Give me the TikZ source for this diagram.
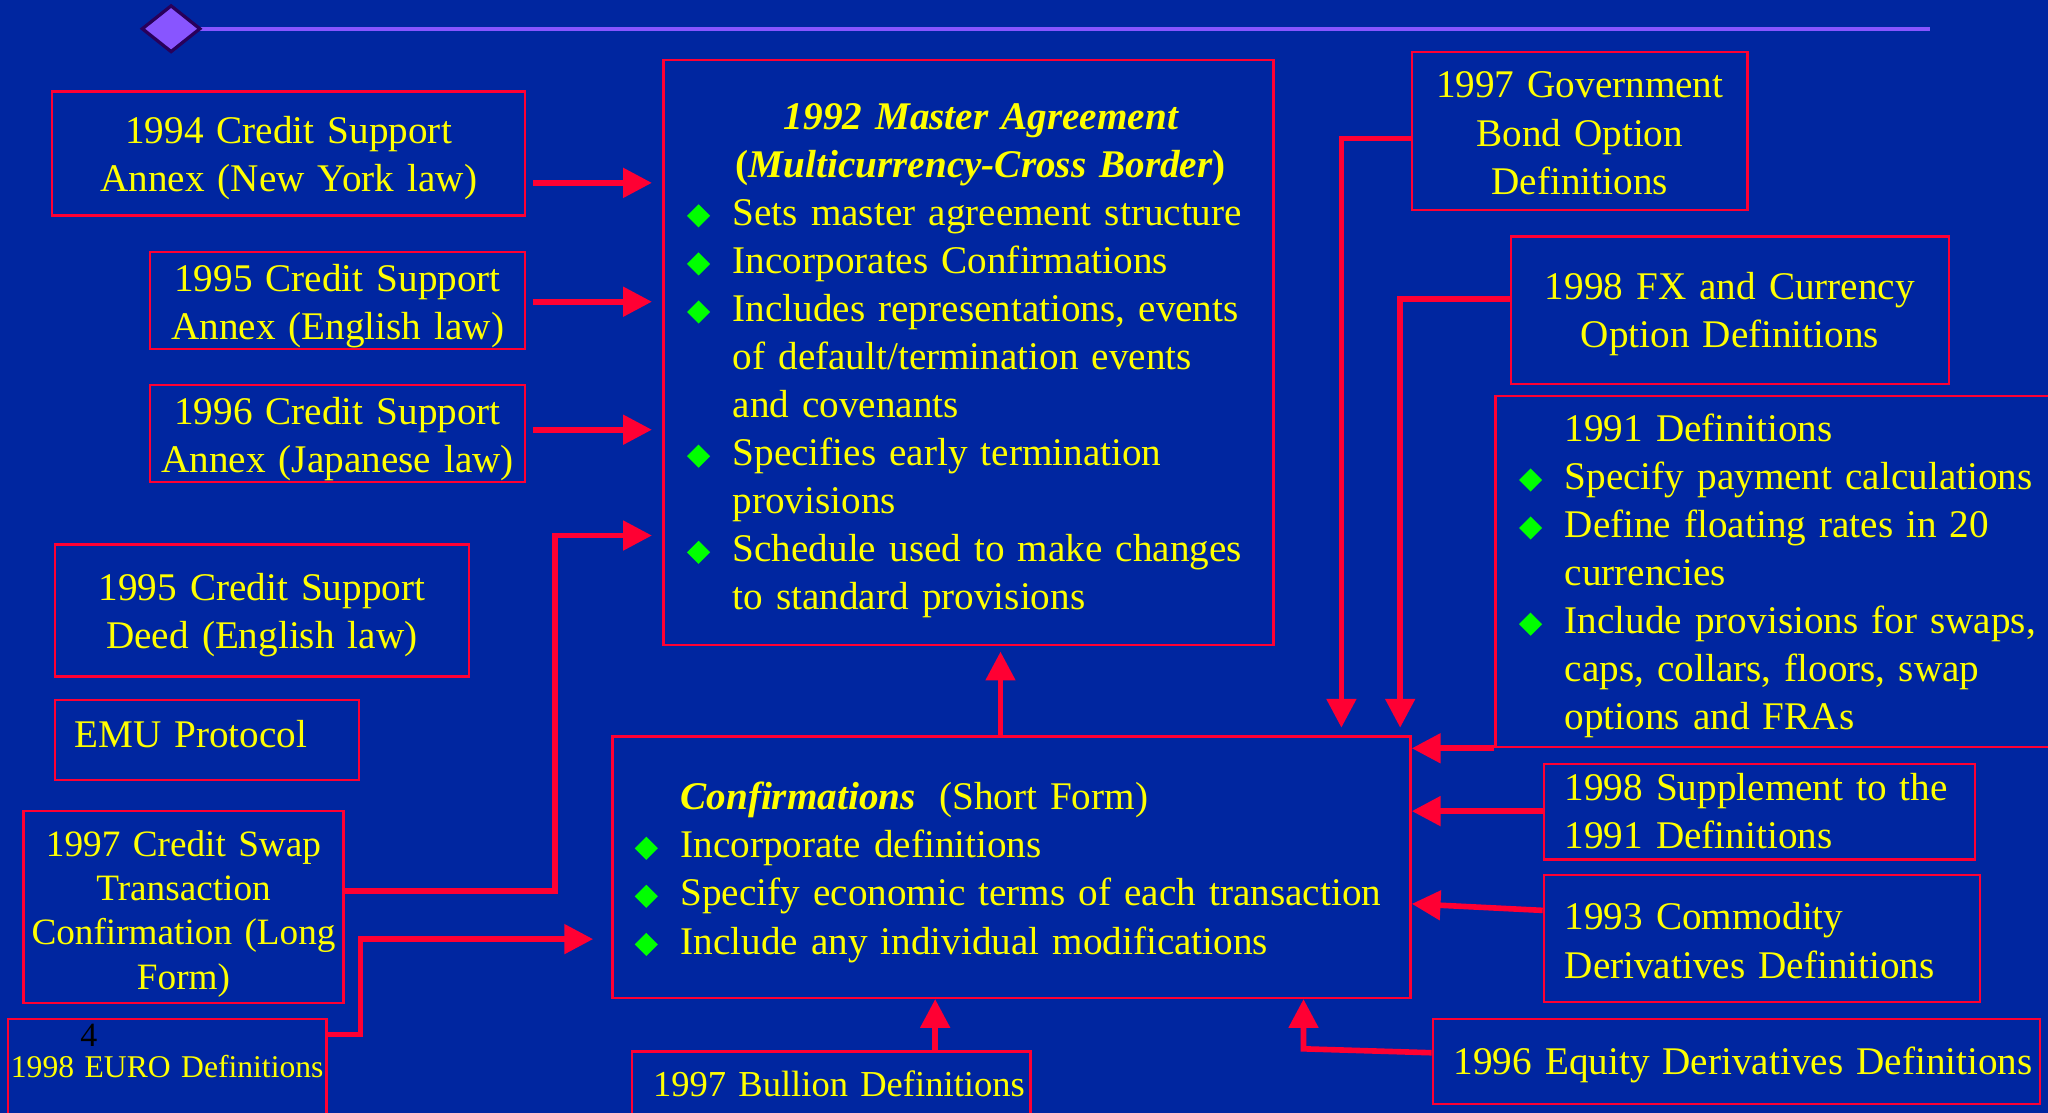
\documentclass[tikz,border=0pt]{standalone}
\usepackage{fontspec}
\setmainfont{Liberation Serif}
\usepackage{graphicx}
\usetikzlibrary{arrows.meta,calc}
\definecolor{bg}{RGB}{0,38,160}
\definecolor{bred}{RGB}{255,0,51}
\definecolor{byel}{RGB}{255,255,0}
\definecolor{bgreen}{RGB}{0,255,0}
\definecolor{bpurp}{RGB}{136,85,255}
\definecolor{bdark}{RGB}{40,0,90}
\newcommand\gbul{\makebox[34pt][l]{\hspace*{-1pt}\raisebox{-1.5pt}{\rotatebox{45}{\textcolor{bgreen}{\rule{12.5pt}{12.5pt}}}}}}
\newcommand\gind{\hspace*{34pt}}
\begin{document}
\begin{tikzpicture}[x=1pt,y=-1pt,
  box/.style={draw=bred, line width=1.8pt, text=byel, inner sep=0pt, font=\fontsize{30}{36.8}\selectfont},
  cbox/.style={box, align=center},
  lbox/.style={box, align=left},
  tb/.style 2 args={text height=#1pt, text depth=#2pt},
  arr/.style={draw=bred, line width=4.3pt, -{Triangle[length=22pt,width=22pt]}}]
\useasboundingbox (0,0) rectangle (1568,852);
\fill[bg] (0,0) rectangle (1568,852);
\begin{scope}
\clip (0,0) rectangle (1568,852);
% top decoration
\draw[bpurp, line width=3pt] (150,22) -- (1478,22);
\filldraw[fill=bpurp, draw=bdark, line width=2.5pt] (109,22) -- (131,4.5) -- (153,22) -- (131,39.5) -- cycle;

% left boxes
\node[cbox, text width=362pt, minimum height=95pt, tb={0}{15}] (b94) at (221,117.5) {1994 Credit Support\\Annex (New York law)};
\node[cbox, text width=287pt, minimum height=74pt, tb={0}{14}] (b95E) at (258.5,230) {1995 Credit Support\\Annex (English law)};
\node[cbox, text width=287pt, minimum height=74pt, tb={0}{14}] (b96J) at (258.5,332) {1996 Credit Support\\Annex (Japanese law)};
\node[cbox, text width=317pt, minimum height=101pt, tb={0}{15}] (b95D) at (200.5,467.5) {1995 Credit Support\\Deed (English law)};
\node[lbox, text width=233pt, minimum height=61pt, tb={11}{0}] (emu) at (158.5,566.5) {\leftskip=15pt\relax EMU Protocol\par};
\node[cbox, text width=245pt, minimum height=147pt, tb={0}{78}, font=\fontsize{28.5}{34}\selectfont] (b97CS) at (140.5,694.5) {1997 Credit Swap\\Transaction\\Confirmation (Long\\Form)};
\node[cbox, text width=244pt, minimum height=76pt, tb={14}{0}, font=\fontsize{24.2}{29}\selectfont] (euro) at (128,818) {\mbox{1998 EURO Definitions}};
\node[text=black, font=\fontsize{26}{30}\selectfont, inner sep=0pt] (pg) at (68,793) {4};

% master agreement
\node[lbox, text width=467pt, minimum height=448pt, tb={0}{342}] (master) at (741.5,270) {\leftskip=19pt\relax
\makebox[448pt][c]{\bfseries\itshape 1992 Master Agreement}\\
\makebox[448pt][c]{\bfseries\itshape \textup{(}Multicurrency-Cross Border\textup{)}}\\
\gbul Sets master agreement structure\\
\gbul Incorporates Confirmations\\
\gbul Includes representations, events\\
\gind of default/termination events\\
\gind and covenants\\
\gbul Specifies early termination\\
\gind provisions\\
\gbul Schedule used to make changes\\
\gind to standard provisions\par};

% confirmations
\node[lbox, text width=611pt, minimum height=200pt, tb={0}{88}] (conf) at (774.5,664) {\leftskip=18pt\relax
\gind{\bfseries\itshape Confirmations}\hspace{18pt}(Short Form)\\
\gbul Incorporate definitions\\
\gbul Specify economic terms of each transaction\\
\gbul Include any individual modifications\par};

% right boxes
\node[cbox, text width=257pt, minimum height=121pt, tb={0}{51}] (gov) at (1209.5,100.5) {1997 Government\\Bond Option\\Definitions};
\node[cbox, text width=335pt, minimum height=113pt, tb={0}{17}] (fx) at (1324.5,237.5) {1998 FX and Currency\\Option Definitions};
\node[lbox, text width=455pt, minimum height=269pt, tb={0}{199}] (d91) at (1372.5,437.5) {\leftskip=19pt\relax
\gind 1991 Definitions\\
\gbul Specify payment calculations\\
\gbul Define floating rates in 20\\
\gind currencies\\
\gbul Include provisions for swaps,\\
\gind caps, collars, floors, swap\\
\gind options and FRAs\par};
\node[lbox, text width=330pt, minimum height=73pt, tb={0}{17}] (sup98) at (1347,621.5) {\leftskip=16pt\relax 1998 Supplement to the\\1991 Definitions\par};
\node[lbox, text width=334pt, minimum height=97pt, tb={0}{13}] (comm) at (1349,718.5) {\leftskip=16pt\relax 1993 Commodity\\Derivatives Definitions\par};
\node[lbox, text width=465pt, minimum height=65pt, tb={21}{0}] (eq96) at (1329.5,812.5) {\leftskip=16pt\relax \mbox{1996 Equity Derivatives Definitions}\par};
\node[lbox, text width=305pt, minimum height=52pt, tb={17}{0}, font=\fontsize{28}{34}\selectfont] (bullion) at (636.5,831) {\leftskip=16pt\relax \mbox{1997 Bullion Definitions}\par};

% connectors
\draw[arr, shorten <=5pt, shorten >=8pt] (b94.east |- 0,140) -- (master.west |- 0,140);
\draw[arr, shorten <=5pt, shorten >=8pt] (b95E.east |- 0,231) -- (master.west |- 0,231);
\draw[arr, shorten <=5pt, shorten >=8pt] (b96J.east |- 0,329) -- (master.west |- 0,329);
\draw[arr, shorten >=8pt] (b97CS.east |- 0,682) -- ++(161,0) |- (master.west |- 0,410);
\draw[arr, shorten >=14pt] (euro.east |- 0,792) -- ++(25,0) |- (conf.west |- 0,719);
\draw[arr, shorten >=4pt] (conf.north -| 766,0) -- (master.south -| 766,0);
\draw[arr, shorten >=6pt] (gov.west |- 0,106) -| (conf.north -| 1027,0);
\draw[arr, shorten >=6pt] (fx.west |- 0,229) -| (conf.north -| 1072,0);
\draw[arr] (d91.south west) -- (conf.east |- d91.south west);
\draw[arr] (sup98.west |- 0,621) -- (conf.east |- 0,621);
\draw[arr] (comm.west |- 0,697) -- (conf.east |- 0,692);
\draw[arr] (bullion.north -| 716,0) -- (conf.south -| 716,0);
\draw[arr] (eq96.west |- 0,806) -- (998,803) -- (conf.south -| 998,0);
\end{scope}
\end{tikzpicture}
\end{document}
